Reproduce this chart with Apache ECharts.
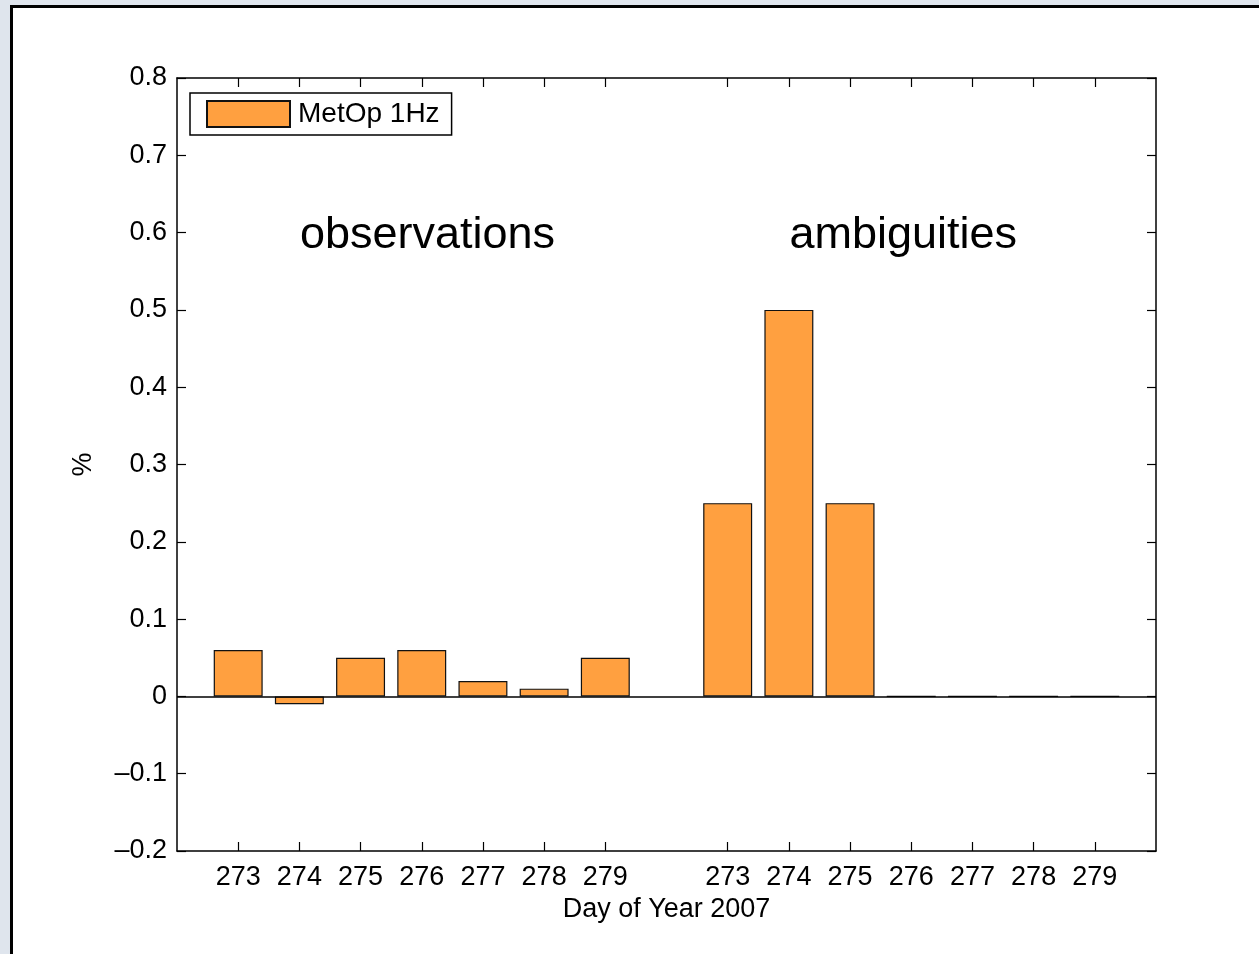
<!DOCTYPE html>
<html>
<head>
<meta charset="utf-8">
<script src="https://cdn.jsdelivr.net/npm/echarts@6/dist/echarts.min.js"></script>
<style>
  html, body { margin: 0; padding: 0; width: 1259px; height: 954px; overflow: hidden; background: #dfe5ed; }
  #frame { position: absolute; left: 10px; top: 5px; width: 1300px; height: 1000px; background: #fff; border-left: 3px solid #000; border-top: 3px solid #000; }
  #chart { position: absolute; left: 0; top: 0; width: 1259px; height: 954px; }
</style>
</head>
<body>
<div id="frame"></div>
<div id="chart"></div>
<script>
// Tick labels for the two groups of days (blank slots at both ends and between the groups)
const dayLabels = ['273', '274', '275', '276', '277', '278', '279'];
// Values in percent
const obsValues = [0.06, -0.01, 0.05, 0.06, 0.02, 0.01, 0.05];
const ambValues = [0.25, 0.50, 0.25, 0.00, 0.00, 0.00, 0.00];
const seriesName = 'MetOp 1Hz';
const groupTitles = ['observations', 'ambiguities'];
const yTicks = { min: -0.2, max: 0.8, interval: 0.1 };

const categories = [''].concat(dayLabels, [''], dayLabels, ['']);
const barData = ['-'].concat(obsValues, ['-'], ambValues, ['-']);

const FONT = 'Liberation Sans, Arial, Helvetica, sans-serif';
const tickInterval = function (idx) { return categories[idx] !== ''; };
const yFmt = function (v) {
  const r = Math.round(v * 10) / 10;
  if (r === 0) return '0';
  const s = Math.abs(r).toFixed(1);
  return (r < 0 ? '\u2013' : '') + s;
};

const chart = echarts.init(document.getElementById('chart'), null, { renderer: 'canvas' });
chart.setOption({
  backgroundColor: 'transparent',
  animation: false,
  textStyle: { fontFamily: FONT },
  grid: { left: 177, right: 103, top: 78, bottom: 103, containLabel: false },
  legend: {
    data: [{ name: seriesName, icon: 'rect' }],
    left: 190, top: 93,
    orient: 'vertical',
    padding: [7, 12, 7, 16],
    itemWidth: 83, itemHeight: 26,
    borderColor: '#000', borderWidth: 1.5,
    backgroundColor: '#fff',
    textStyle: { fontSize: 28, color: '#000', fontFamily: FONT, padding: [0, 0, 0, 3] },
    selectedMode: false
  },
  xAxis: [{
    type: 'category',
    position: 'bottom',
    data: categories,
    boundaryGap: false,
    axisLine: { show: true, onZero: false, lineStyle: { color: '#000', width: 1.5 } },
    axisTick: { show: true, inside: true, length: 9, interval: tickInterval, lineStyle: { color: '#000', width: 1.2 } },
    axisLabel: { show: true, interval: 0, fontSize: 27, color: '#000', margin: 13, fontFamily: FONT },
    splitLine: { show: false },
    name: 'Day of Year 2007',
    nameLocation: 'middle',
    nameGap: 45,
    nameTextStyle: { fontSize: 27, color: '#000', fontFamily: FONT }
  }, {
    type: 'category',
    position: 'top',
    data: categories,
    boundaryGap: false,
    axisLine: { show: true, onZero: false, lineStyle: { color: '#000', width: 1.5 } },
    axisTick: { show: true, inside: true, length: 9, interval: tickInterval, lineStyle: { color: '#000', width: 1.2 } },
    axisLabel: { show: false },
    splitLine: { show: false }
  }],
  yAxis: [{
    type: 'value',
    position: 'left',
    min: yTicks.min, max: yTicks.max, interval: yTicks.interval,
    axisLine: { show: true, onZero: false, lineStyle: { color: '#000', width: 1.5 } },
    axisTick: { show: true, inside: true, length: 9, lineStyle: { color: '#000', width: 1.2 } },
    axisLabel: { show: true, fontSize: 27, color: '#000', margin: 10, formatter: yFmt, fontFamily: FONT, padding: [4, 0, 0, 0] },
    splitLine: { show: false },
    name: '%',
    nameLocation: 'middle',
    nameRotate: 90,
    nameGap: 80,
    nameTextStyle: { fontSize: 27, color: '#000', fontFamily: FONT }
  }, {
    type: 'value',
    position: 'right',
    min: yTicks.min, max: yTicks.max, interval: yTicks.interval,
    axisLine: { show: true, onZero: false, lineStyle: { color: '#000', width: 1.5 } },
    axisTick: { show: true, inside: true, length: 9, lineStyle: { color: '#000', width: 1.2 } },
    axisLabel: { show: false },
    splitLine: { show: false }
  }],
  series: [{
    name: seriesName,
    type: 'bar',
    xAxisIndex: 0,
    yAxisIndex: 0,
    data: barData,
    barWidth: '80%',
    itemStyle: { color: '#ffa040', borderColor: '#111', borderWidth: 1.2 },
    emphasis: { disabled: true },
    markLine: {
      silent: true,
      symbol: ['none', 'none'],
      label: { show: false },
      lineStyle: { color: '#000', width: 1.5, type: 'solid' },
      data: [{ yAxis: 0 }]
    },
    markPoint: {
      silent: true,
      symbol: 'circle',
      symbolSize: 1,
      itemStyle: { color: 'rgba(0,0,0,0)' },
      label: { show: true, position: 'right', distance: 0, offset: [0, 3], fontSize: 45, color: '#000', fontFamily: FONT },
      data: [
        { coord: [2, 0.6], value: groupTitles[0], label: { formatter: groupTitles[0] } },
        { coord: [10, 0.6], value: groupTitles[1], label: { formatter: groupTitles[1] } }
      ]
    }
  }]
});
</script>
</body>
</html>
